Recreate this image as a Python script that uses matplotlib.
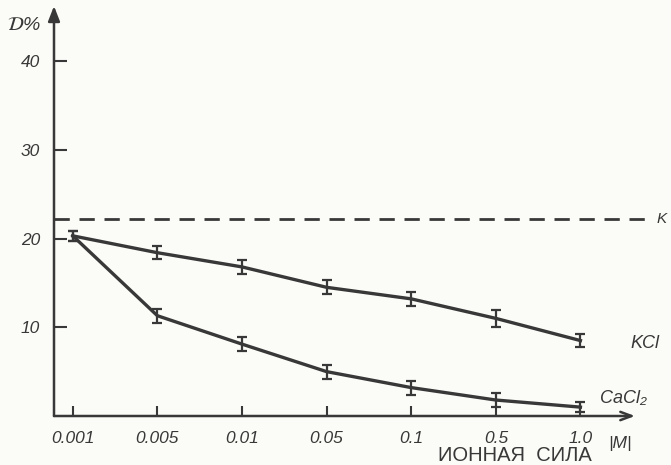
import matplotlib
matplotlib.use('Agg')
import matplotlib.pyplot as plt

plt.rcParams['font.family'] = ['Liberation Sans', 'DejaVu Sans']

# ionic strength (M) and D% for the two salts
ionic = ['0.001', '0.005', '0.01', '0.05', '0.1', '0.5', '1.0']
kcl = [20.3, 18.4, 16.8, 14.5, 13.2, 11.0, 8.5]
kcl_err = [0.6, 0.7, 0.8, 0.8, 0.8, 1.0, 0.7]
cacl2 = [20.3, 11.3, 8.1, 5.0, 3.2, 1.8, 1.0]
cacl2_err = [0.6, 0.8, 0.8, 0.8, 0.8, 0.8, 0.6]
k_level = 22.2
yticks = [10, 20, 30, 40]

ink = '#383838'
bg = '#fbfbf7'

fig = plt.figure(figsize=(6.71, 4.65), dpi=100, facecolor=bg)
ax = fig.add_axes([54/671, 49/465, 581/671, 410/465], facecolor=bg)

x = list(range(len(ionic)))
for vals, err in [(kcl, kcl_err), (cacl2, cacl2_err)]:
    ax.errorbar(x, vals, yerr=err, color=ink, lw=2.4, elinewidth=1.6,
                capsize=3.5, capthick=1.6, clip_on=False, zorder=3)

# dashed reference level, runs a little past the axis end
ax.plot([0, 1.028], [k_level, k_level], transform=ax.get_yaxis_transform(),
        color=ink, lw=2, dashes=(5.5, 3.5), clip_on=False)
ax.text(1.037, k_level, 'K', transform=ax.get_yaxis_transform(), color=ink,
        fontsize=11, style='italic', va='center', ha='left')

ax.set_xlim(-0.222, 6.645)
ax.set_ylim(0, 46.2)

for s in ax.spines.values():
    s.set_visible(False)
ax.annotate('', xy=(0, 1.0), xytext=(0, 0), xycoords='axes fraction',
            arrowprops=dict(arrowstyle='-|>,head_length=0.9,head_width=0.35',
                            color=ink, lw=1.8, shrinkA=0, shrinkB=0))
ax.annotate('', xy=(1.0, 0), xytext=(0, 0), xycoords='axes fraction',
            arrowprops=dict(arrowstyle='->,head_length=0.8,head_width=0.3',
                            color=ink, lw=1.8, shrinkA=0, shrinkB=0))

ax.set_xticks(x)
ax.set_xticklabels(ionic, fontsize=12.5, style='italic', color=ink)
ax.set_yticks(yticks)
ax.set_yticklabels([str(t) for t in yticks], fontsize=12.5, style='italic', color=ink)
ax.tick_params(axis='x', direction='in', length=7, width=1.5, color=ink, pad=11)
ax.tick_params(axis='y', direction='in', length=9, width=1.5, color=ink, pad=10)

ax.text(-0.052, 0.952, r'$\mathcal{D}$%', transform=ax.transAxes, fontsize=14,
        color=ink, style='italic', ha='center', va='center')
ax.annotate('|M|', xy=(6, 0), xytext=(20, -23), textcoords='offset points',
            fontsize=12.5, style='italic', color=ink, ha='left')
ax.annotate('KCl', xy=(6, kcl[-1]), xytext=(36, -2), textcoords='offset points',
            fontsize=13, style='italic', color=ink, va='center')
ax.annotate('CaCl₂', xy=(6, cacl2[-1]), xytext=(14, 6), textcoords='offset points',
            fontsize=13, style='italic', color=ink, va='center')
fig.text(515/671, 1 - 455/465, 'ИОННАЯ  СИЛА', fontsize=14.5, color=ink,
         ha='center', va='center')

fig.savefig('out.png', dpi=100, facecolor=bg)
